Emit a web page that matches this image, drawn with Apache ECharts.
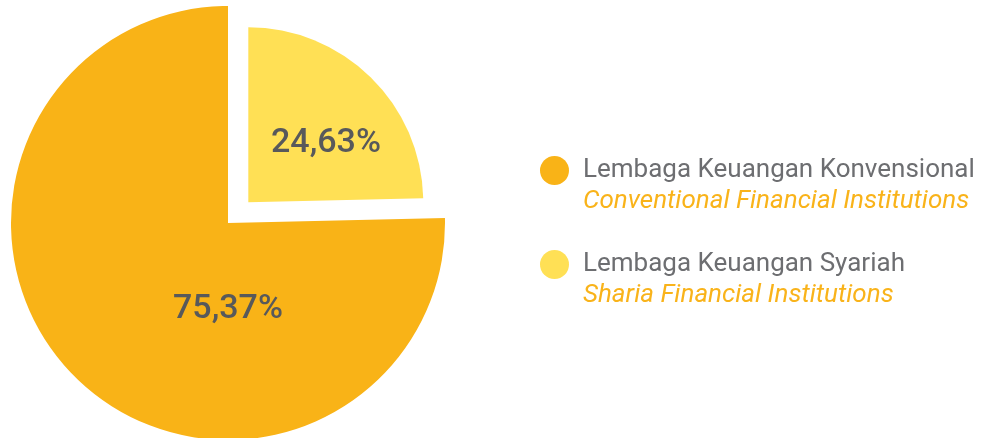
<!DOCTYPE html>
<html>
<head>
<meta charset="utf-8">
<script src="https://cdn.jsdelivr.net/npm/echarts@6/dist/echarts.min.js"></script>
<style>
  html, body { margin: 0; padding: 0; background: #ffffff; }
  #chart { width: 986px; height: 438px; }
</style>
</head>
<body>
<div id="chart"></div>
<script>
// Share of institutions: Islamic vs conventional
const categories = ['Lembaga Keuangan Syariah', 'Lembaga Keuangan Konvensional'];
const categoriesEn = ['Sharia Financial Institutions', 'Conventional Financial Institutions'];
const shares = [24.63, 75.37];
const colors = ['#FFE055', '#F9B317'];

const legendOrder = ['Lembaga Keuangan Konvensional', 'Lembaga Keuangan Syariah'];

const fmt = v => v.toFixed(2).replace('.', ',') + '%';
const enOf = name => categoriesEn[categories.indexOf(name)];

// label anchor points (pixel layout of the two value labels)
const labelPos = [[326, 143], [228, 309]];

const labelStyle = {
  show: true,
  position: 'inside',
  formatter: p => fmt(p.value),
  color: '#58595B',
  fontFamily: 'Roboto',
  fontSize: 34,
  fontWeight: 500
};

const labelLayout = p => ({
  x: labelPos[p.dataIndex][0],
  y: labelPos[p.dataIndex][1],
  align: 'center',
  verticalAlign: 'middle'
});

function seriesData(visibleIdx) {
  return categories.map((name, i) => ({
    name,
    value: shares[i],
    itemStyle: { color: i === visibleIdx ? colors[i] : 'rgba(0,0,0,0)' },
    label: { show: i === visibleIdx }
  }));
}

const chart = echarts.init(document.getElementById('chart'), null, { renderer: 'canvas' });
chart.setOption({
  animation: false,
  backgroundColor: '#ffffff',
  legend: {
    orient: 'vertical',
    left: 540,
    top: 124,
    padding: 0,
    itemGap: 1,
    itemWidth: 29,
    itemHeight: 29,
    icon: 'circle',
    selectedMode: false,
    data: legendOrder.map(n => ({ name: n, itemStyle: { color: colors[categories.indexOf(n)] } })),
    formatter: name => '{s| }\n{a|' + name + '}\n{b|' + enOf(name) + '}',
    textStyle: {
      fontFamily: 'Roboto',
      lineHeight: 31,
      rich: {
        s: { fontSize: 2, lineHeight: 31 },
        a: { fontSize: 26, color: '#6D6E71', fontFamily: 'Roboto', lineHeight: 31, padding: [0, 0, 0, 9] },
        b: { fontSize: 26, color: '#F9B31A', fontFamily: 'Roboto', fontStyle: 'italic', lineHeight: 31, padding: [0, 0, 0, 9] }
      }
    }
  },
  series: [
    {
      // large slice
      type: 'pie',
      center: [228, 223],
      radius: 217,
      startAngle: 90,
      clockwise: true,
      silent: true,
      selectedMode: false,
      label: labelStyle,
      labelLine: { show: false },
      labelLayout,
      data: seriesData(1)
    },
    {
      // smaller slice, pulled out along its bisector
      type: 'pie',
      center: [248.3, 202.3],
      radius: 175,
      startAngle: 90,
      clockwise: true,
      silent: true,
      selectedMode: false,
      label: labelStyle,
      labelLine: { show: false },
      labelLayout,
      data: seriesData(0)
    }
  ]
});
</script>
</body>
</html>
